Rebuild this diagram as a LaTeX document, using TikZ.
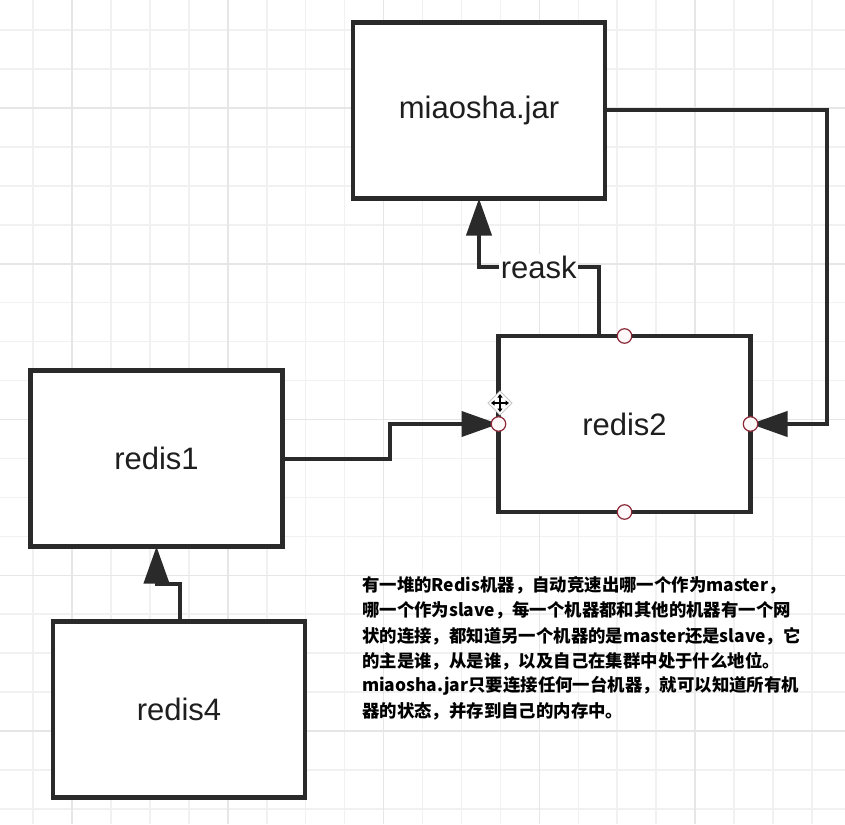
\documentclass[tikz,border=0pt]{standalone}
\usepackage{fontspec}
\newfontfamily\lblfont{Liberation Sans}
\newfontfamily\cjk{Noto Sans CJK SC}
\usetikzlibrary{arrows.meta,calc,shapes.geometric}
\definecolor{ink}{HTML}{2A2A2A}
\definecolor{txt}{HTML}{1E1E1E}
\definecolor{gridminor}{HTML}{F1F1F1}
\definecolor{gridmajor}{HTML}{E6E6E6}
\definecolor{portred}{HTML}{8C2A3A}
\definecolor{portfill}{HTML}{FFF8F8}
\tikzset{
  boxnode/.style={draw=ink, line width=4.5pt, fill=white, minimum width=252pt, minimum height=176pt, inner sep=0pt, outer sep=0pt, font=\lblfont\fontsize{31}{36}\selectfont, text=txt},
  conn/.style={draw=ink, line width=4pt, -{Triangle[length=37pt,width=25pt]}},
  lbl/.style={fill=white, inner sep=1.5pt, font=\lblfont\fontsize{31}{36}\selectfont, text=txt},
  port/.style={circle, draw=portred, line width=1.2pt, fill=portfill, minimum size=14.5pt, inner sep=0pt},
  note/.style={anchor=west, inner sep=0pt, font=\cjk\bfseries\fontsize{17.4}{25}\selectfont, text=black},
}
\begin{document}
\begin{tikzpicture}[x=1pt,y=-1pt]
\useasboundingbox (0,0) rectangle (845,824);
\fill[white] (0,0) rectangle (845,824);
% grid
\foreach \k in {0,...,21} {
  \pgfmathsetmacro{\gx}{33+38.95*\k}
  \draw[gridminor, line width=1.6pt] (\gx,0) -- (\gx,824);
}
\foreach \k in {0,...,20} {
  \pgfmathsetmacro{\gy}{30+38.95*\k}
  \draw[gridminor, line width=1.6pt] (0,\gy) -- (845,\gy);
}
\foreach \k in {1,5,9,13,17,21} {
  \pgfmathsetmacro{\gx}{33+38.95*\k}
  \draw[gridmajor, line width=1.6pt] (\gx,0) -- (\gx,824);
}
\foreach \k in {2,6,10,14,18} {
  \pgfmathsetmacro{\gy}{30+38.95*\k}
  \draw[gridmajor, line width=1.6pt] (0,\gy) -- (845,\gy);
}
% boxes
\node[boxnode] (mj) at (479,110.5) {miaosha.jar};
\node[boxnode] (r2) at (624.5,424) {redis2};
\node[boxnode] (r1) at (156.5,458.5) {redis1};
\node[boxnode] (r4) at (179,709.5) {redis4};
% connectors
\draw[conn] (r1.east) -- (390,458.5) |- (r2.west);
\draw[conn] (mj.east) -- (827,110.5) |- (r2.east);
\draw[conn] ([xshift=-26pt]r2.north) |- node[pos=0.75, lbl] {reask} (mj.south |- 0,267) -- (mj.south);
\draw[conn] ([xshift=0.5pt]r4.north) |- (r1.south |- 0,584) -- (r1.south);
% ports
\node[port] (p1) at (r2.north) {};
\node[port] (p2) at (r2.west) {};
\node[port] (p3) at (r2.east) {};
\node[port] (p4) at (r2.south) {};
% move cursor
\filldraw[fill=white, draw=gray!45, line width=0.8pt] (500,391) -- (512,403) -- (500,415) -- (488,403) -- cycle;
\begin{scope}[line width=1.6pt, black]
\draw[-{Triangle[length=3.5pt,width=5pt]}] (500,403) -- (500,394);
\draw[-{Triangle[length=3.5pt,width=5pt]}] (500,403) -- (500,412);
\draw[-{Triangle[length=3.5pt,width=5pt]}] (500,403) -- (491,403);
\draw[-{Triangle[length=3.5pt,width=5pt]}] (500,403) -- (509,403);
\end{scope}
% note
\node[note] (n1) at (362,585) {有一堆的Redis机器，自动竞速出哪一个作为master，};
\node[note] (n2) at (362,610) {哪一个作为slave，每一个机器都和其他的机器有一个网};
\node[note] (n3) at (362,636) {状的连接，都知道另一个机器的是master还是slave，它};
\node[note] (n4) at (362,661) {的主是谁，从是谁，以及自己在集群中处于什么地位。};
\node[note] (n5) at (362,686) {miaosha.jar只要连接任何一台机器，就可以知道所有机};
\node[note] (n6) at (362,711) {器的状态，并存到自己的内存中。};
\end{tikzpicture}
\end{document}
